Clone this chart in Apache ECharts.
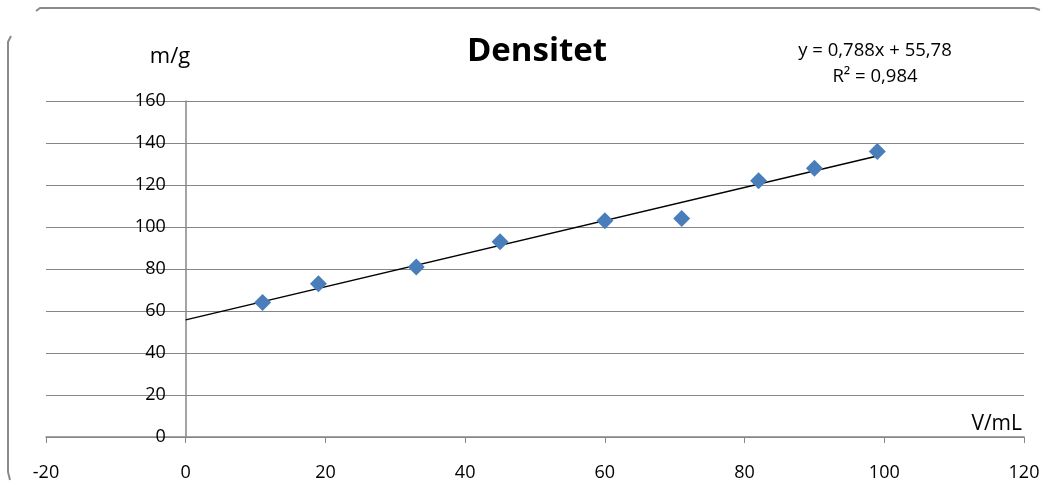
<!DOCTYPE html>
<html><head><meta charset="utf-8">
<script src="https://cdn.jsdelivr.net/npm/echarts@6/dist/echarts.min.js"></script>
<style>html,body{margin:0;padding:0;background:#fff}#c{width:1062px;height:504px}</style>
</head><body><div id="c"></div>
<script>
// Data
const volumes = [11, 19, 33, 45, 60, 71, 82, 90, 99];
const masses  = [64, 73, 81, 93, 103, 104, 122, 128, 136];
const trendSlope = 0.788;
const trendIntercept = 55.78;
const trendRange = [0, 99];
const xTicks = [-20, 0, 20, 40, 60, 80, 100, 120];
const yTicks = [0, 20, 40, 60, 80, 100, 120, 140, 160];
const titleText = 'Densitet';
const eqText = 'y = 0,788x + 55,78';
const r2Text = 'R² = 0,984';
const yName = 'm/g';
const xName = 'V/mL';

const points = volumes.map((v, i) => [v, masses[i]]);
const trend = trendRange.map(x => [x, trendSlope * x + trendIntercept]);
const font = "'Open Sans', 'Liberation Sans', sans-serif";

const gridLeft = 46, gridRight = 38;
const plotW = 1062 - gridLeft - gridRight;
const xMin = xTicks[0], xMax = xTicks[xTicks.length - 1];
const yAxisOffset = -plotW * (0 - xMin) / (xMax - xMin);

const chart = echarts.init(document.getElementById('c'));
chart.setOption({
  animation: false,
  backgroundColor: '#fff',
  grid: {left: gridLeft, right: gridRight, top: 101, bottom: 67, containLabel: false},
  xAxis: {
    type: 'value', min: xMin, max: xMax, interval: 20,
    axisLine: {show: true, onZero: false, lineStyle: {color: '#868686', width: 1.5}},
    axisTick: {show: true, length: 6, lineStyle: {color: '#868686'}},
    axisLabel: {margin: 27, color: '#000', fontSize: 18, fontFamily: font},
    splitLine: {show: false}
  },
  yAxis: {
    type: 'value', min: yTicks[0], max: yTicks[yTicks.length - 1], interval: 20,
    position: 'left', offset: yAxisOffset,
    axisLine: {show: true, onZero: false, lineStyle: {color: '#868686', width: 1.5}},
    axisTick: {show: false},
    axisLabel: {margin: 20, color: '#000', fontSize: 18, fontFamily: font},
    splitLine: {show: true, lineStyle: {color: '#868686', width: 1}}
  },
  series: [
    {
      type: 'line', data: trend, showSymbol: false, symbol: 'none',
      lineStyle: {color: '#000', width: 1.5}, z: 2, silent: true
    },
    {
      type: 'scatter', data: points, symbol: 'diamond', symbolSize: [17, 17],
      itemStyle: {color: '#4A7EBB', opacity: 1}, z: 3
    }
  ],
  graphic: [
    {type: 'text', x: 537, y: 52, style: {text: titleText, fontSize: 33, fontWeight: 'bold', fontFamily: font, fill: '#000', align: 'center', verticalAlign: 'middle'}},
    {type: 'text', x: 875, y: 51, style: {text: eqText, fontSize: 18.5, fontFamily: font, fill: '#000', align: 'center', verticalAlign: 'middle'}},
    {type: 'text', x: 875, y: 77, style: {text: r2Text, fontSize: 18.5, fontFamily: font, fill: '#000', align: 'center', verticalAlign: 'middle'}},
    {type: 'text', x: 170, y: 57, style: {text: yName, fontSize: 22, fontFamily: font, fill: '#000', align: 'center', verticalAlign: 'middle'}},
    {type: 'text', x: 1022, y: 424, style: {text: xName, fontSize: 21, fontFamily: font, fill: '#000', align: 'right', verticalAlign: 'middle'}},
    {type: 'polyline', shape: {points: [[36, 11], [40, 8], [1034, 8], [1040, 10]]}, style: {fill: null, stroke: '#8a8a8a', lineWidth: 2}},
    {type: 'polyline', shape: {points: [[11, 36], [8, 42], [8, 472], [10, 480]]}, style: {fill: null, stroke: '#8a8a8a', lineWidth: 2}}
  ]
});
</script></body></html>
